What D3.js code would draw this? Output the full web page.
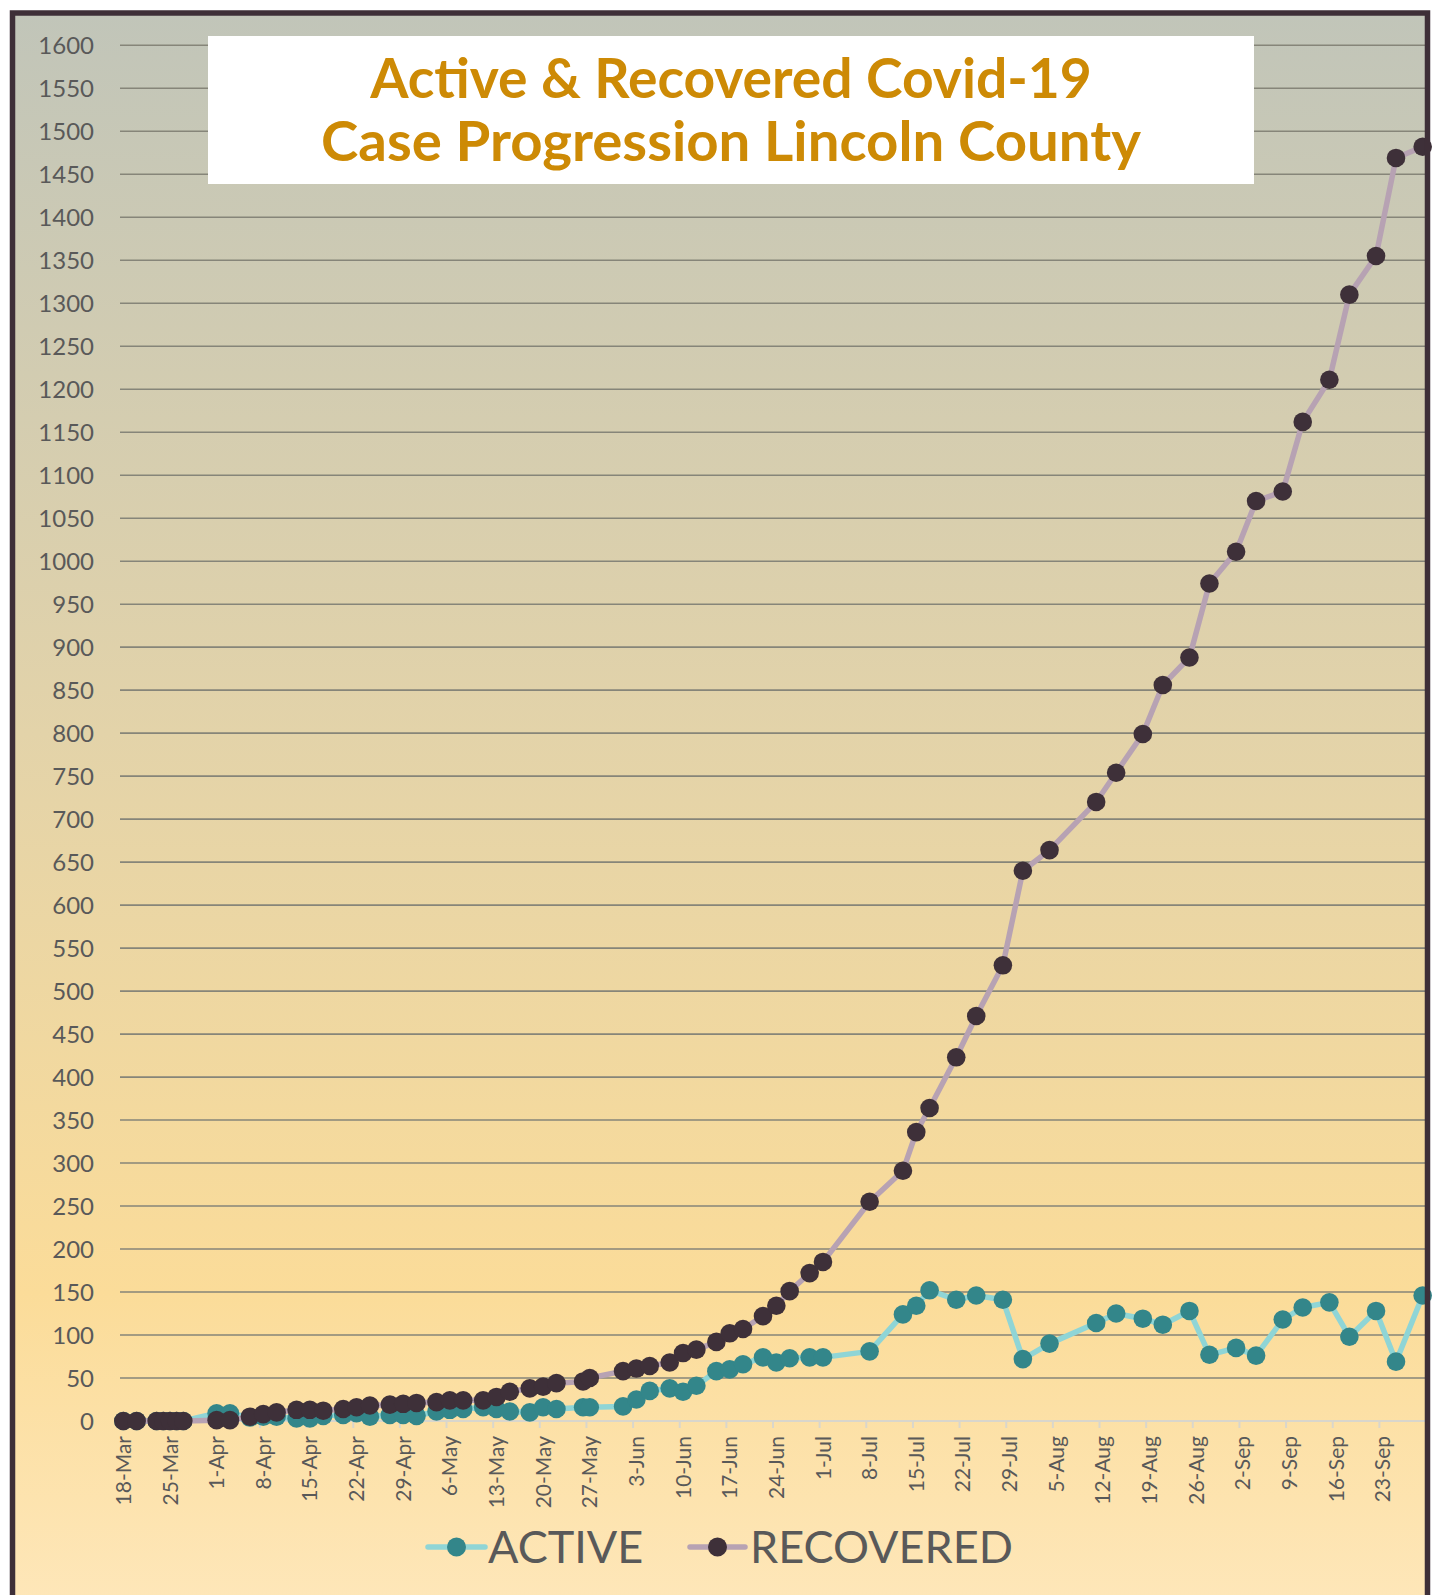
<!DOCTYPE html>
<html>
<head>
<meta charset="utf-8">
<script src="https://cdn.jsdelivr.net/npm/d3@7"></script>
<style>
  body { margin: 0; background: #fff; }
  svg { display: block; }
</style>
</head>
<body>
<svg id="chart" width="1438" height="1595"></svg>
<script>
// report dates (2020)
const dates = [
  "2020-03-18","2020-03-20","2020-03-23","2020-03-24","2020-03-25","2020-03-26","2020-03-27",
  "2020-04-01","2020-04-03","2020-04-06","2020-04-08","2020-04-10","2020-04-13","2020-04-15","2020-04-17",
  "2020-04-20","2020-04-22","2020-04-24","2020-04-27","2020-04-29",
  "2020-05-01","2020-05-04","2020-05-06","2020-05-08","2020-05-11","2020-05-13","2020-05-15","2020-05-18",
  "2020-05-20","2020-05-22","2020-05-26","2020-05-27",
  "2020-06-01","2020-06-03","2020-06-05","2020-06-08","2020-06-10","2020-06-12","2020-06-15","2020-06-17",
  "2020-06-19","2020-06-22","2020-06-24","2020-06-26","2020-06-29",
  "2020-07-01","2020-07-08","2020-07-13","2020-07-15","2020-07-17","2020-07-21","2020-07-24","2020-07-28","2020-07-31",
  "2020-08-04","2020-08-11","2020-08-14","2020-08-18","2020-08-21","2020-08-25","2020-08-28",
  "2020-09-01","2020-09-04","2020-09-08","2020-09-11","2020-09-15","2020-09-18","2020-09-22","2020-09-25","2020-09-29"
]

const activeCases = [
  0, 0, 0, 0, 0, 0, 0,
  9, 9, 4, 5, 5, 3, 3, 6,
  7, 9, 5, 7, 7,
  6, 11, 13, 14, 16, 14, 11, 10,
  16, 14, 16, 16,
  17, 25, 35, 38, 34, 41, 58, 60,
  66, 74, 68, 73, 74,
  74, 81, 124, 134, 152, 141, 146, 141, 72,
  90, 114, 125, 119, 112, 128, 77,
  85, 76, 118, 132, 138, 98, 128, 69, 146
]

const recoveredCases = [
  0, 0, 0, 0, 0, 0, 0,
  1, 1, 5, 8, 10, 13, 13, 12,
  14, 16, 18, 19, 20,
  21, 22, 24, 24, 24, 28, 34, 38,
  40, 44, 46, 50,
  58, 61, 64, 68, 79, 83, 92, 102,
  107, 122, 134, 151, 172,
  185, 255, 291, 336, 364, 423, 471, 530, 640,
  664, 720, 754, 799, 856, 888, 974,
  1011, 1070, 1081, 1162, 1211, 1310, 1355, 1469, 1482
]

const xTickLabels = ["18-Mar","25-Mar","1-Apr","8-Apr","15-Apr","22-Apr","29-Apr","6-May","13-May",
  "20-May","27-May","3-Jun","10-Jun","17-Jun","24-Jun","1-Jul","8-Jul","15-Jul","22-Jul","29-Jul",
  "5-Aug","12-Aug","19-Aug","26-Aug","2-Sep","9-Sep","16-Sep","23-Sep"]

const yTickValues = [0,50,100,150,200,250,300,350,400,450,500,550,600,650,700,750,800,
  850,900,950,1000,1050,1100,1150,1200,1250,1300,1350,1400,1450,1500,1550,1600]

const seriesNames = ["ACTIVE", "RECOVERED"]
const titleLines = ["Active & Recovered Covid-19", "Case Progression Lincoln County"]

const parseDay = d3.utcParse("%Y-%m-%d")
const parseTick = d3.utcParse("%d-%b-%Y")

var svg = d3.select("#chart")
var font = "Lato, 'Open Sans', sans-serif"

// background gradient
var defs = svg.append("defs")
var grad = defs.append("linearGradient").attr("id", "bg")
  .attr("x1", 0).attr("y1", 0).attr("x2", 0).attr("y2", 1)
grad.append("stop").attr("offset", "0%").attr("stop-color", "#c1c5b9")
grad.append("stop").attr("offset", "45%").attr("stop-color", "#e3d3a9")
grad.append("stop").attr("offset", "80%").attr("stop-color", "#fbdc99")
grad.append("stop").attr("offset", "100%").attr("stop-color", "#fee7ba")

svg.append("rect")
  .attr("x", 13).attr("y", 13).attr("width", 1414).attr("height", 1600)
  .attr("fill", "url(#bg)")

var x = d3.scaleUtc()
  .domain([parseDay("2020-03-18"), parseDay("2020-09-30")])
  .range([120, 1426])

var y = d3.scaleLinear()
  .domain([0, 1600])
  .range([1421, 45.3])

var halfDay = 12 * 3600 * 1000
function px(d) { return x(new Date(parseDay(d).getTime() + halfDay)) }

// grid lines
svg.append("g")
  .selectAll("line")
  .data(yTickValues.filter(v => v > 0))
  .enter()
    .append("line")
    .attr("x1", 120).attr("x2", 1426)
    .attr("y1", d => y(d)).attr("y2", d => y(d))
    .attr("stroke", "#868579")
    .attr("stroke-width", 1.6)

// y labels
svg.append("g")
  .selectAll("text")
  .data(yTickValues)
  .enter()
    .append("text")
    .attr("x", 94)
    .attr("y", d => y(d))
    .attr("dy", "0.36em")
    .attr("text-anchor", "end")
    .attr("font-family", font)
    .attr("font-size", 24)
    .attr("fill", "#595959")
    .text(d => d)

// x axis
var tickDates = xTickLabels.map(t => parseTick(t + "-2020"))
svg.append("line")
  .attr("x1", 120).attr("x2", 1426)
  .attr("y1", y(0)).attr("y2", y(0))
  .attr("stroke", "#d9d6cc").attr("stroke-width", 2)

svg.append("g")
  .selectAll("line")
  .data(tickDates)
  .enter()
    .append("line")
    .attr("x1", d => x(d)).attr("x2", d => x(d))
    .attr("y1", y(0)).attr("y2", y(0) + 7)
    .attr("stroke", "#d9d6cc").attr("stroke-width", 2)

svg.append("g")
  .selectAll("text")
  .data(xTickLabels)
  .enter()
    .append("text")
    .attr("transform", (d, i) => "translate(" + (x(tickDates[i]) + 3.5) + "," + (y(0) + 15) + ") rotate(-90)")
    .attr("dy", "0.35em")
    .attr("text-anchor", "end")
    .attr("font-family", font)
    .attr("font-size", 21)
    .attr("fill", "#595959")
    .text(d => d)

// series
var line = d3.line()
  .x(d => px(d.date))
  .y(d => y(d.value))

var series = [
  { name: seriesNames[0], values: activeCases, line: "#8fd5d6", dot: "#33868a" },
  { name: seriesNames[1], values: recoveredCases, line: "#b7a2b3", dot: "#3e3039" }
]

series.forEach(function(s) {
  var pts = dates.map((d, i) => ({ date: d, value: s.values[i] }))
  svg.append("path")
    .datum(pts)
    .attr("d", line)
    .attr("fill", "none")
    .attr("stroke", s.line)
    .attr("stroke-width", 5.5)
    .attr("stroke-linejoin", "round")
  svg.append("g")
    .selectAll("circle")
    .data(pts)
    .enter()
      .append("circle")
      .attr("cx", d => px(d.date))
      .attr("cy", d => y(d.value))
      .attr("r", 9.3)
      .attr("fill", s.dot)
})

// frame
svg.append("path")
  .attr("d", "M12.5,1600 V13 H1427.5 V1600")
  .attr("fill", "none")
  .attr("stroke", "#3e2f38")
  .attr("stroke-width", 5.5)

// title box
svg.append("rect")
  .attr("x", 208).attr("y", 36).attr("width", 1046).attr("height", 148)
  .attr("fill", "#fff")

var titleWidths = [722, 820]
titleLines.forEach(function(t, i) {
  var tx = svg.append("text")
    .attr("x", 731)
    .attr("y", i == 0 ? 98 : 161)
    .attr("text-anchor", "middle")
    .attr("font-family", font)
    .attr("font-weight", "bold")
    .attr("font-size", 50)
    .attr("fill", "#cd8a05")
    .text(t)
  var w = tx.node().getComputedTextLength()
  tx.attr("font-size", 50 * titleWidths[i] / w)
})

// legend
var legendItems = [
  { name: seriesNames[0], x0: 428, x1: 485, tx: 488, line: "#8fd5d6", dot: "#33868a" },
  { name: seriesNames[1], x0: 690, x1: 745, tx: 750, line: "#b7a2b3", dot: "#3e3039" }
]
var ly = 1547
legendItems.forEach(function(l) {
  svg.append("line")
    .attr("x1", l.x0).attr("x2", l.x1)
    .attr("y1", ly).attr("y2", ly)
    .attr("stroke", l.line).attr("stroke-width", 5.5)
    .attr("stroke-linecap", "round")
  svg.append("circle")
    .attr("cx", (l.x0 + l.x1) / 2).attr("cy", ly).attr("r", 9.5)
    .attr("fill", l.dot)
  svg.append("text")
    .attr("x", l.tx).attr("y", ly + 16)
    .attr("font-family", font)
    .attr("font-size", 45)
    .attr("fill", "#595959")
    .text(l.name)
})
</script>
</body>
</html>
